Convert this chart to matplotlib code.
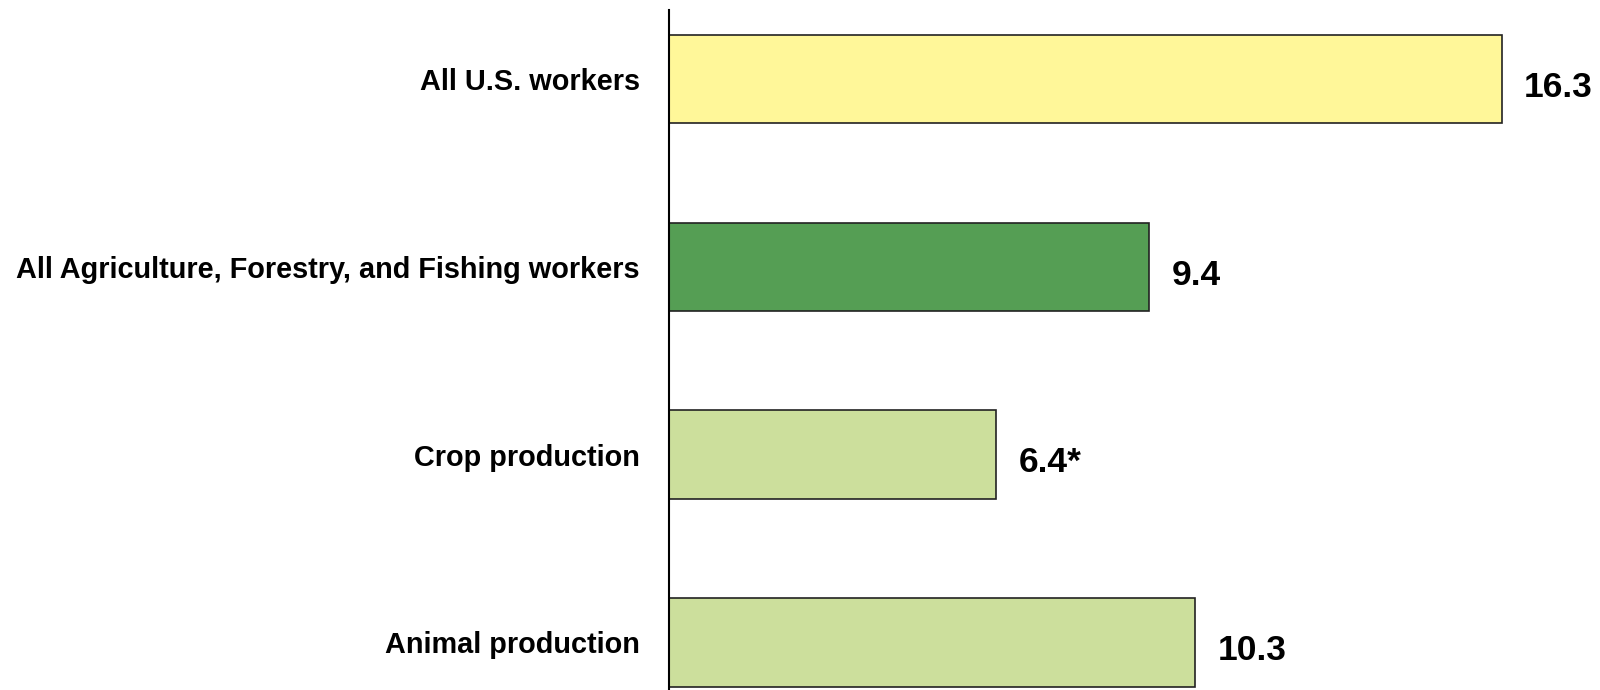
import matplotlib.pyplot as plt

# Data
categories = ["All U.S. workers",
              "All Agriculture, Forestry, and Fishing workers",
              "Crop production",
              "Animal production"]
values = [16.3, 9.4, 6.4, 10.3]
value_labels = ["16.3", "9.4", "6.4*", "10.3"]
bar_colors = ["#FFF799", "#559E54", "#CCDF9C", "#CCDF9C"]

plt.rcParams["font.family"] = ["Liberation Sans", "DejaVu Sans"]

fig = plt.figure(figsize=(16, 6.9), dpi=100)
ax = fig.add_axes([669 / 1600, 0.0, 1 - 669 / 1600, 680 / 690])

pos = list(range(len(categories)))
ax.barh(pos, values, height=0.47, color=bar_colors, edgecolor="#222222", linewidth=1.2)

# value labels to the right of each bar
for p, v, lab in zip(pos, values, value_labels):
    ax.annotate(lab, xy=(v, p), xytext=(16, -6), textcoords="offset points",
                ha="left", va="center", fontsize=25.5, fontweight="bold")

ax.set_xlim(0, 931 / 51.1)
ax.set_ylim(3.253, -0.367)

ax.set_yticks(pos)
ax.set_yticklabels(categories, fontsize=20.8, fontweight="bold")
ax.tick_params(axis="y", length=0, pad=21)
ax.set_xticks([])

for side in ["top", "right", "bottom"]:
    ax.spines[side].set_visible(False)
ax.spines["left"].set_linewidth(1.5)

fig.savefig("out.png", dpi=100)
